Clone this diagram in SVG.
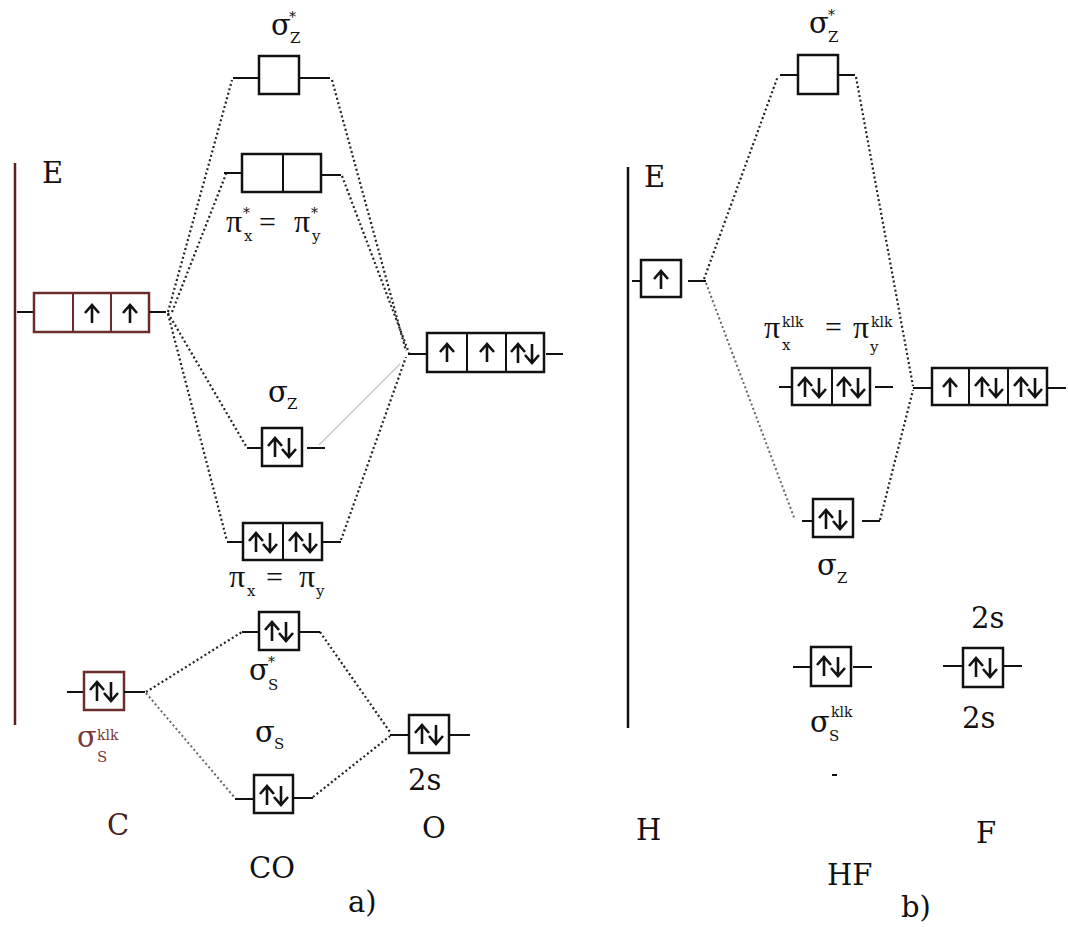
<svg xmlns="http://www.w3.org/2000/svg" width="1068" height="927" viewBox="0 0 1068 927">
<defs>
<style>
text{font-family:"DejaVu Serif","Liberation Serif",serif;fill:#111}
.lb{font-size:29px}
.pi{font-family:"Liberation Serif",serif;font-size:32px}
.eq{font-family:"Liberation Serif",serif;font-size:30px}
.sb{font-size:15px}
.sp{font-size:14px}
.st{font-size:14px}
.box{fill:#fff;stroke:#111;stroke-width:2.5}
.cbox{fill:#fff;stroke:#6b2c2c;stroke-width:2.5}
.ln{stroke:#111;stroke-width:2;fill:none}
.ar{stroke:#111;stroke-width:2.6;fill:none;stroke-linecap:butt;stroke-linejoin:miter}
.dot{stroke:#222;stroke-width:2.2;stroke-dasharray:2 2.6;fill:none}
.dotg{stroke:#666;stroke-width:2;stroke-dasharray:2 2.6;fill:none}
.faint{stroke:#c8c8c8;stroke-width:1.4;fill:none}
.axis{stroke-width:2.5;fill:none}
</style>
<path id="up" class="ar" d="M0,9 V-8 M-7,-1 L0,-9 L7,-1"/>
<path id="pair" class="ar" d="M-7,10 V-8 M-14,-1 L-7,-9 L0,-1 M7,-9 V9 M0,2 L7,10 L14,2"/>
</defs>

<!-- axes -->
<line class="axis" x1="15" y1="163" x2="15" y2="725" stroke="#5b1f1f"/>
<text class="lb" x="42" y="183">E</text>
<line class="axis" x1="628" y1="167" x2="628" y2="728" stroke="#111"/>
<text class="lb" x="644" y="187">E</text>

<!-- connectors -->
<g id="connectors">
<line class="dot" x1="168" y1="312" x2="232" y2="80"/>
<line class="dot" x1="172" y1="312" x2="226" y2="174"/>
<line class="dot" x1="168" y1="313" x2="246" y2="446"/>
<line class="dot" x1="168" y1="314" x2="227" y2="541"/>
<line class="dot" x1="332" y1="80" x2="406" y2="351"/>
<line class="dot" x1="342" y1="176" x2="409" y2="353"/>
<line class="faint" x1="319" y1="445" x2="400" y2="364"/>
<line class="dot" x1="341" y1="540" x2="406" y2="357"/>
<line class="dot" x1="146" y1="692" x2="242" y2="632"/>
<line class="dotg" x1="146" y1="693" x2="235" y2="798"/>
<line class="dot" x1="320" y1="632" x2="390" y2="732"/>
<line class="dot" x1="313" y1="797" x2="390" y2="736"/>
<line class="dot" x1="704" y1="279" x2="778" y2="76"/>
<line class="dotg" x1="706" y1="283" x2="795" y2="520"/>
<line class="dot" x1="856" y1="77" x2="913" y2="386"/>
<line class="dot" x1="880" y1="520" x2="913" y2="390"/>
</g>

<!-- ===== a) CO ===== -->
<g id="C-2p">
<line class="ln" x1="17" y1="312" x2="34" y2="312"/>
<rect class="cbox" x="34" y="293" width="115" height="39"/>
<line x1="73" y1="293" x2="73" y2="332" stroke="#6b2c2c" stroke-width="2"/>
<line x1="111" y1="293" x2="111" y2="332" stroke="#6b2c2c" stroke-width="2"/>
<line class="ln" x1="149" y1="312" x2="166" y2="312"/>
<use href="#up" x="92" y="314"/>
<use href="#up" x="130" y="314"/>
</g>

<g id="CO-sigma-z-star">
<text class="lb" x="271" y="35">σ</text>
<text class="sb" x="290" y="43">Z</text>
<text class="st" x="289" y="22">*</text>
<line class="ln" x1="233" y1="78" x2="259" y2="78"/>
<rect class="box" x="259" y="56" width="40" height="38"/>
<line class="ln" x1="299" y1="78" x2="330" y2="78"/>
</g>

<g id="CO-pi-star">
<line class="ln" x1="224" y1="173" x2="242" y2="173"/>
<rect class="box" x="242" y="154" width="79" height="38"/>
<line class="ln" x1="283" y1="154" x2="283" y2="192"/>
<line class="ln" x1="321" y1="175" x2="341" y2="175"/>
<text class="pi" x="226" y="232">π</text>
<text class="st" x="243" y="218">*</text>
<text class="sb" x="244" y="241">x</text>
<text class="eq" x="259" y="232">=</text>
<text class="pi" x="294" y="232">π</text>
<text class="st" x="311" y="218">*</text>
<text class="sb" x="312" y="241">y</text>
</g>

<g id="O-2p">
<line class="ln" x1="408" y1="354" x2="427" y2="354"/>
<rect class="box" x="427" y="333" width="117" height="39"/>
<line class="ln" x1="467" y1="333" x2="467" y2="372"/>
<line class="ln" x1="506" y1="333" x2="506" y2="372"/>
<line class="ln" x1="546" y1="354" x2="563" y2="354"/>
<use href="#up" x="447" y="353"/>
<use href="#up" x="487" y="353"/>
<use href="#pair" x="525" y="353"/>
</g>

<g id="CO-sigma-z">
<text class="lb" x="268" y="402">σ</text>
<text class="sb" x="287" y="409">Z</text>
<line class="ln" x1="247" y1="448" x2="262" y2="448"/>
<rect class="box" x="262" y="428" width="40" height="38"/>
<line class="ln" x1="307" y1="448" x2="325" y2="448"/>
<use href="#pair" x="282" y="447"/>
</g>

<g id="CO-pi">
<line class="ln" x1="227" y1="542" x2="243" y2="542"/>
<rect class="box" x="243" y="523" width="79" height="37"/>
<line class="ln" x1="283" y1="523" x2="283" y2="560"/>
<line class="ln" x1="322" y1="542" x2="341" y2="542"/>
<use href="#pair" x="263" y="542"/>
<use href="#pair" x="303" y="542"/>
<text class="pi" x="229" y="587">π</text>
<text class="sb" x="247" y="596">x</text>
<text class="eq" x="266" y="587">=</text>
<text class="pi" x="299" y="587">π</text>
<text class="sb" x="316" y="596">y</text>
</g>

<g id="CO-sigma-s-star">
<line class="ln" x1="242" y1="632" x2="259" y2="632"/>
<rect class="box" x="259" y="612" width="40" height="38"/>
<line class="ln" x1="299" y1="632" x2="320" y2="632"/>
<use href="#pair" x="279" y="631"/>
<text class="lb" x="249" y="680">σ</text>
<text class="st" x="268" y="667">*</text>
<text class="sb" x="268" y="690">S</text>
</g>

<g id="CO-sigma-s">
<text class="lb" x="255" y="742">σ</text>
<text class="sb" x="274" y="749">S</text>
<line class="ln" x1="235" y1="799" x2="254" y2="799"/>
<rect class="box" x="254" y="775" width="39" height="38"/>
<line class="ln" x1="293" y1="798" x2="313" y2="798"/>
<use href="#pair" x="274" y="795"/>
</g>

<g id="C-2s">
<line class="ln" x1="67" y1="692" x2="84" y2="692"/>
<rect class="cbox" x="84" y="672" width="40" height="38"/>
<line class="ln" x1="124" y1="692" x2="145" y2="692"/>
<use href="#pair" x="104" y="691"/>
<text class="lb" x="77" y="747" style="fill:#7a3a3a">σ</text>
<text class="sp" x="97" y="740" style="fill:#7a3a3a">klk</text>
<text class="sb" x="97" y="762" style="fill:#7a3a3a">S</text>
</g>

<g id="O-2s">
<line class="ln" x1="390" y1="735" x2="409" y2="735"/>
<rect class="box" x="409" y="715" width="40" height="38"/>
<line class="ln" x1="449" y1="735" x2="470" y2="735"/>
<use href="#pair" x="429" y="734"/>
<text class="lb" x="408" y="790">2s</text>
</g>

<text class="lb" x="107" y="835" style="fill:#4a2020">C</text>
<text class="lb" x="422" y="838">O</text>
<text class="lb" x="249" y="878">CO</text>
<text class="lb" x="348" y="912">a)</text>

<!-- ===== b) HF ===== -->
<g id="HF-sigma-z-star">
<text class="lb" x="809" y="33">σ</text>
<text class="sb" x="828" y="42">Z</text>
<text class="st" x="828" y="20">*</text>
<line class="ln" x1="780" y1="75" x2="798" y2="75"/>
<rect class="box" x="798" y="55" width="40" height="39"/>
<line class="ln" x1="838" y1="75" x2="855" y2="75"/>
</g>

<g id="H-1s">
<line class="ln" x1="632" y1="281" x2="641" y2="281"/>
<rect class="box" x="641" y="260" width="40" height="37"/>
<use href="#up" x="661" y="280"/>
<line class="ln" x1="688" y1="281" x2="706" y2="281"/>
</g>

<g id="HF-pi-nb">
<text class="pi" x="764" y="338">π</text>
<text class="sp" x="782" y="327">klk</text>
<text class="sb" x="782" y="350">x</text>
<text class="eq" x="825" y="337">=</text>
<text class="pi" x="853" y="338">π</text>
<text class="sp" x="871" y="327">klk</text>
<text class="sb" x="870" y="352">y</text>
<line class="ln" x1="779" y1="387" x2="792" y2="387"/>
<rect class="box" x="792" y="368" width="78" height="37"/>
<line class="ln" x1="832" y1="368" x2="832" y2="405"/>
<line class="ln" x1="875" y1="387" x2="893" y2="387"/>
<use href="#pair" x="812" y="387"/>
<use href="#pair" x="851" y="387"/>
</g>

<g id="F-2p">
<line class="ln" x1="913" y1="388" x2="932" y2="388"/>
<rect class="box" x="932" y="368" width="115" height="37"/>
<line class="ln" x1="969" y1="368" x2="969" y2="405"/>
<line class="ln" x1="1008" y1="368" x2="1008" y2="405"/>
<line class="ln" x1="1047" y1="388" x2="1066" y2="388"/>
<use href="#up" x="950" y="388"/>
<use href="#pair" x="989" y="387"/>
<use href="#pair" x="1028" y="387"/>
</g>

<g id="HF-sigma-z">
<line class="ln" x1="802" y1="521" x2="813" y2="521"/>
<rect class="box" x="813" y="499" width="40" height="38"/>
<line class="ln" x1="862" y1="521" x2="880" y2="521"/>
<use href="#pair" x="833" y="519"/>
<text class="lb" x="817" y="575">σ</text>
<text class="sb" x="837" y="583">Z</text>
</g>

<g id="HF-sigma-s-nb">
<line class="ln" x1="793" y1="667" x2="811" y2="667"/>
<rect class="box" x="811" y="647" width="40" height="39"/>
<line class="ln" x1="853" y1="667" x2="872" y2="667"/>
<use href="#pair" x="831" y="666"/>
<text class="lb" x="810" y="732">σ</text>
<text class="sp" x="831" y="717">klk</text>
<text class="sb" x="829" y="741">S</text>
<line class="ln" x1="832" y1="775" x2="837" y2="775"/>
</g>

<g id="F-2s">
<text class="lb" x="971" y="628">2s</text>
<line class="ln" x1="943" y1="666" x2="963" y2="666"/>
<rect class="box" x="963" y="648" width="40" height="39"/>
<line class="ln" x1="1003" y1="666" x2="1022" y2="666"/>
<use href="#pair" x="983" y="667"/>
<text class="lb" x="962" y="728">2s</text>
</g>

<text class="lb" x="636" y="840">H</text>
<text class="lb" x="976" y="843">F</text>
<text class="lb" x="827" y="885">HF</text>
<text class="lb" x="901" y="917">b)</text>
</svg>
